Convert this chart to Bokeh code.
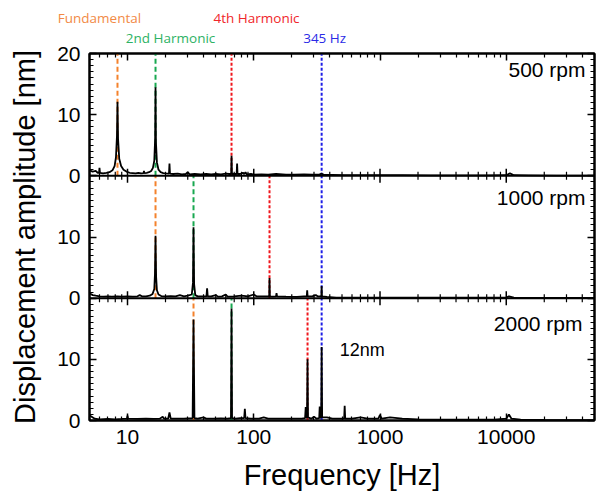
import math
from bokeh.plotting import figure
from bokeh.models import (Range1d, LinearAxis, LogAxis, FixedTicker, NumeralTickFormatter,
                          Label, Span, ColumnDataSource, GridBox)
from bokeh.core.properties import value
from bokeh.embed import file_html
from bokeh.resources import INLINE

FONT = "Liberation Sans"

# ---------------- data ----------------
panel_names = ["500 rpm", "1000 rpm", "2000 rpm"]
fundamental_hz = [8.33, 16.67, 33.33]
second_harmonic_hz = [16.67, 33.33, 66.67]
fourth_harmonic_hz = [66.67, 133.3, 266.7]
fixed_line_hz = [345.0, 345.0, 345.0]
marker_names = ["Fundamental", "2nd Harmonic", "4th Harmonic", "345 Hz"]

freq_500 = [5.0, 5.3, 5.6, 5.8, 5.95, 6.0, 6.05, 6.4, 6.8, 7.2, 7.6, 7.9, 8.1, 8.25, 8.33, 8.42, 8.6,
            8.9, 9.3, 9.8, 10.4, 11.0, 11.6, 12.2, 12.8, 13.4, 13.5, 13.6, 14.2, 14.8, 15.4, 15.9,
            16.3, 16.55, 16.67, 16.8, 17.1, 17.6, 18.3, 19.2, 20.2, 21.3, 21.5, 21.7, 23, 25, 27,
            29, 30, 31, 34, 38, 42, 46, 50, 55, 60, 64, 66.2, 66.7, 67.2, 70, 73.2, 73.8, 74.4, 78,
            82, 84, 86, 88, 95, 100, 115, 130, 150, 180, 210, 250, 290, 330, 345, 360, 420, 520,
            700, 1000, 1500, 2500, 4000, 7000, 10000, 10700, 11500, 15000, 25000, 50000]
amp_500 = [0.9, 0.7, 0.8, 0.5, 0.5, 1.3, 0.5, 0.4, 0.5, 0.6, 0.9, 1.6, 3.0, 6.5, 12.1, 6.0, 2.8,
           1.6, 1.0, 0.7, 0.5, 0.45, 0.4, 0.5, 0.4, 0.45, 0.8, 0.45, 0.5, 0.6, 0.8, 1.3,
           2.5, 6.0, 14.5, 5.5, 2.2, 1.0, 0.6, 0.45, 0.4, 0.35, 2.0, 0.35, 0.3, 0.35, 0.25,
           0.3, 0.6, 0.25, 0.3, 0.25, 0.3, 0.25, 0.3, 0.25, 0.35, 0.3, 0.3, 3.3, 0.3, 0.3, 0.3, 2.0, 0.3, 0.3,
           0.5, 0.3, 0.6, 0.25, 0.3, 0.2, 0.25, 0.2, 0.3, 0.2, 0.2, 0.25, 0.2, 0.2, 0.35, 0.15, 0.15, 0.1,
           0.1, 0.1, 0.1, 0.08, 0.08, 0.08, 0.1, 0.4, 0.1, 0.08, 0.05, 0.05]

freq_1000 = [5.0, 5.3, 5.6, 6.0, 6.5, 7.0, 7.5, 8.3, 9.0, 10, 11, 12, 12.5, 13, 14, 15, 15.8, 16.3,
             16.5, 16.67, 16.85, 17.1, 17.6, 18.5, 20, 22, 24, 26, 28, 30, 32.3, 33.0, 33.33, 33.7,
             34.4, 36, 40, 42.2, 42.7, 43.2, 46, 50, 52, 56, 60, 62, 70, 80, 90, 100, 105, 115, 125,
             132.5, 133.3, 134.2, 140, 150, 151.5, 153, 180, 220, 250, 263, 265, 267, 290, 310, 320,
             343, 345, 347, 380, 450, 600, 1000, 2000, 5000, 10000, 10500, 11500, 20000, 50000]
amp_1000 = [0.8, 0.5, 0.4, 0.3, 0.25, 0.3, 0.25, 0.3, 0.25, 0.3, 0.25, 0.3, 0.5, 0.3, 0.3, 0.4, 0.7, 1.5,
            4.0, 10.2, 3.5, 1.3, 0.6, 0.35, 0.3, 0.35, 0.3, 0.5, 0.3, 0.4, 0.6, 2.5, 11.6, 2.3,
            0.5, 0.3, 0.3, 0.3, 1.6, 0.3, 0.3, 0.5, 0.25, 0.3, 0.6, 0.25, 0.3, 0.4, 0.3, 0.6, 0.3, 0.3, 0.3,
            0.3, 3.3, 0.3, 0.25, 0.3, 0.8, 0.3, 0.25, 0.2, 0.3, 0.3, 1.3, 0.3, 0.3, 0.5, 0.3,
            0.3, 2.0, 0.3, 0.2, 0.1, 0.1, 0.1, 0.08, 0.08, 0.1, 0.3, 0.1, 0.05, 0.05]

freq_2000 = [5.0, 5.2, 5.5, 6, 7, 8, 9, 9.9, 10.0, 10.1, 12, 14, 16, 18, 19, 19.5, 21, 21.5, 22, 25,
             28, 30, 32.8, 33.33, 33.9, 36, 40, 42, 48, 55, 62, 66.0, 66.67, 67.3, 72, 78, 84, 85,
             86, 95, 110, 120, 130, 160, 200, 240, 255, 258, 261, 264, 266.67, 269, 285, 300, 315,
             330, 333, 336, 342, 345, 348, 380, 420, 480, 520, 525, 530, 600, 700, 800, 970, 1000,
             1030, 1200, 1500, 2000, 3000, 5000, 8000, 10000, 10500, 11000, 13000, 20000, 50000]
amp_2000 = [0.9, 0.6, 0.3, 0.2, 0.25, 0.2, 0.25, 0.3, 0.8, 0.3, 0.25, 0.3, 0.25, 0.3, 0.6, 0.3, 0.3, 1.3, 0.3, 0.3,
            0.3, 0.35, 0.4, 16.5, 0.4, 0.3, 0.5, 0.3, 0.3, 0.35, 0.3, 0.4, 18.3, 0.4, 0.3, 0.4, 0.4, 1.9,
            0.4, 0.3, 0.3, 0.5, 0.3, 0.3, 0.3, 0.3, 0.4, 2.2, 0.4, 0.5, 10.0, 0.5, 0.3, 0.6, 0.3,
            0.4, 2.3, 0.4, 0.5, 12.0, 0.5, 0.5, 0.3, 0.3, 0.3, 2.4, 0.3, 0.3, 0.5, 0.3, 0.3, 0.9,
            0.3, 0.5, 0.3, 0.2, 0.15, 0.15, 0.15, 0.3, 1.0, 0.3, 0.15, 0.08, 0.05]

spectra_freq = [freq_500, freq_1000, freq_2000]
spectra_amp = [amp_500, amp_1000, amp_2000]
peak_note = "12nm"

y_ticks = [0, 10, 20]
x_major = [10, 100, 1000, 10000]
x_lim = (5, 50000)
y_lim = (0, 20)

# ---------------- styling ----------------
ORANGE = "#F4822C"
GREEN = "#18A850"
RED = "#F0161C"
BLUE = "#1E1EE6"
marker_colors = [ORANGE, GREEN, RED, BLUE]
label_colors = ["#F28A46", "#2DB264", "#F0262A", "#2A2AE6"]
marker_dash = ["5 3", "5 3", "3 2", "3 2"]

npan = len(panel_names)
span_ = y_lim[1] - y_lim[0]
total = span_ * npan

W = 598
H = 497                      # main figure (whole page)
LH = 46                      # transparent strip with the marker names, laid over the top
ML, MR, MT, MB = 89, 4, 53, 77
frame_h = H - MT - MB
px_per_unit = frame_h / total

# ---------- strip with the marker names (frame spans the full width, same log scale) ----------
px_dec = (W - ML - MR) / (math.log10(x_lim[1]) - math.log10(x_lim[0]))
strip_range = Range1d(10 ** (math.log10(x_lim[0]) - ML / px_dec), 10 ** (math.log10(x_lim[1]) + MR / px_dec))
top = figure(width=W, height=LH, x_axis_type="log", x_range=strip_range, y_range=(0, LH),
             output_backend="svg", toolbar_location=None, frame_align=False,
             min_border_left=0, min_border_right=0, min_border_top=0, min_border_bottom=0)
top.axis.visible = False
top.grid.visible = False
top.outline_line_color = None
top.background_fill_color = None
top.border_fill_color = None
marker_sets = [fundamental_hz, second_harmonic_hz, fourth_harmonic_hz, fixed_line_hz]
lab_row_y = [LH - 17, LH - 37, LH - 17, LH - 37]
lab_dx = [-18, 15, 25, 3]
for k, ms in enumerate(marker_sets):
    top.text(x=[ms[0]], y=[lab_row_y[k]], text=[marker_names[k]], x_offset=lab_dx[k],
             text_align="center", text_baseline="middle", text_font=value("Open Sans"),
             text_font_size="13.5px", text_color=label_colors[k])

# ---------- main figure ----------
p = figure(width=W, height=H, x_axis_type="log", x_range=x_lim, y_range=(0, total),
           output_backend="svg", toolbar_location=None, frame_align=False,
           min_border_left=ML, min_border_right=MR, min_border_top=MT, min_border_bottom=MB,
           x_axis_label="Frequency [Hz]", y_axis_label="Displacement amplitude [nm]")
p.background_fill_color = "white"
p.border_fill_color = "white"
p.grid.visible = False
p.outline_line_color = "black"
p.outline_line_width = 2

p.extra_y_ranges = {}
for i in range(npan):
    off = span_ * (npan - 1 - i)
    p.extra_y_ranges[f"p{i}"] = Range1d(y_lim[0] - off, y_lim[1] + span_ * i)

x_minor = [m * 10 ** k for k in range(0, 5) for m in range(2, 10) if x_lim[0] <= m * 10 ** k <= x_lim[1]]
xticker = FixedTicker(ticks=x_major, minor_ticks=x_minor)

y_tick_pos, overrides = [], {}
for i in reversed(range(npan)):
    off = span_ * (npan - 1 - i)
    for t in y_ticks:
        overrides[off + t] = str(t)
        y_tick_pos.append(off + t)
y_tick_pos = sorted(set(y_tick_pos))
yticker = FixedTicker(ticks=y_tick_pos, minor_ticks=list(range(0, total + 1)))


def style_axis(ax, labels=True):
    ax.axis_line_color = "black"
    ax.axis_line_width = 2
    ax.major_tick_line_color = "black"
    ax.minor_tick_line_color = "black"
    ax.major_tick_line_width = 1.5
    ax.minor_tick_line_width = 1.2
    ax.major_tick_in = 7
    ax.major_tick_out = 0
    ax.minor_tick_in = 4
    ax.minor_tick_out = 0
    ax.major_label_text_font = FONT
    if labels:
        ax.major_label_text_font_size = "21px"
        ax.major_label_text_color = "black"
        ax.axis_label_text_font = FONT
        ax.axis_label_text_font_size = "29px"
        ax.axis_label_text_font_style = "normal"
        ax.axis_label_text_color = "black"
    else:
        ax.major_label_text_font_size = "1px"
        ax.major_label_text_color = "white"
        ax.major_label_text_alpha = 0
        ax.major_label_standoff = 0


xb = p.below[0]
xb.ticker = xticker
xb.formatter = NumeralTickFormatter(format="0")
style_axis(xb)
xb.major_label_standoff = 9
xb.axis_label_standoff = 12

yl = p.left[0]
yl.ticker = yticker
yl.major_label_overrides = overrides
style_axis(yl)
yl.major_label_standoff = 9
yl.axis_label_standoff = 13

xa = LogAxis(ticker=xticker)
style_axis(xa, labels=False)
p.add_layout(xa, "above")
yr = LinearAxis(ticker=yticker)
style_axis(yr, labels=False)
p.add_layout(yr, "right")

# internal panel boundaries with two-sided ticks
hmaj = 7 / px_per_unit
hmin = 4 / px_per_unit
for i in range(1, npan):
    yb = span_ * i
    p.add_layout(Span(location=yb, dimension="width", line_color="black", line_width=2))
    p.segment(x0=x_major, x1=x_major, y0=[yb - hmaj] * len(x_major), y1=[yb + hmaj] * len(x_major),
              line_color="black", line_width=1.5)
    p.segment(x0=x_minor, x1=x_minor, y0=[yb - hmin] * len(x_minor), y1=[yb + hmin] * len(x_minor),
              line_color="black", line_width=1.2)

# marker lines and spectra
for i in range(npan):
    rn = f"p{i}"
    for k, ms in enumerate(marker_sets):
        p.segment(x0=[ms[i]], x1=[ms[i]], y0=[y_lim[0]], y1=[y_lim[1]], y_range_name=rn,
                  line_color=marker_colors[k], line_width=2, line_dash=marker_dash[k])
    src = ColumnDataSource(dict(f=spectra_freq[i], a=spectra_amp[i]))
    p.line("f", "a", source=src, y_range_name=rn, line_color="black", line_width=1.8)
    p.add_layout(Label(x=x_lim[1], y=[17.4, 16.4, 15.9][i], y_range_name=rn, x_offset=[-9, -9, -12][i],
                       text=panel_names[i], text_align="right", text_baseline="middle",
                       text_font=FONT, text_font_size="21px", text_color="black"))

p.add_layout(Label(x=fixed_line_hz[2], y=11.5, y_range_name=f"p{npan-1}", x_offset=18,
                   text=peak_note, text_align="left", text_baseline="middle",
                   text_font=FONT, text_font_size="18px", text_color="black"))

# the main figure fills the grid; the transparent strip is laid over its top edge
layout = GridBox(children=[(p, 0, 0, 2, 1), (top, 0, 0, 1, 1)], spacing=0)
open("out.html", "w").write(file_html(layout, INLINE))
